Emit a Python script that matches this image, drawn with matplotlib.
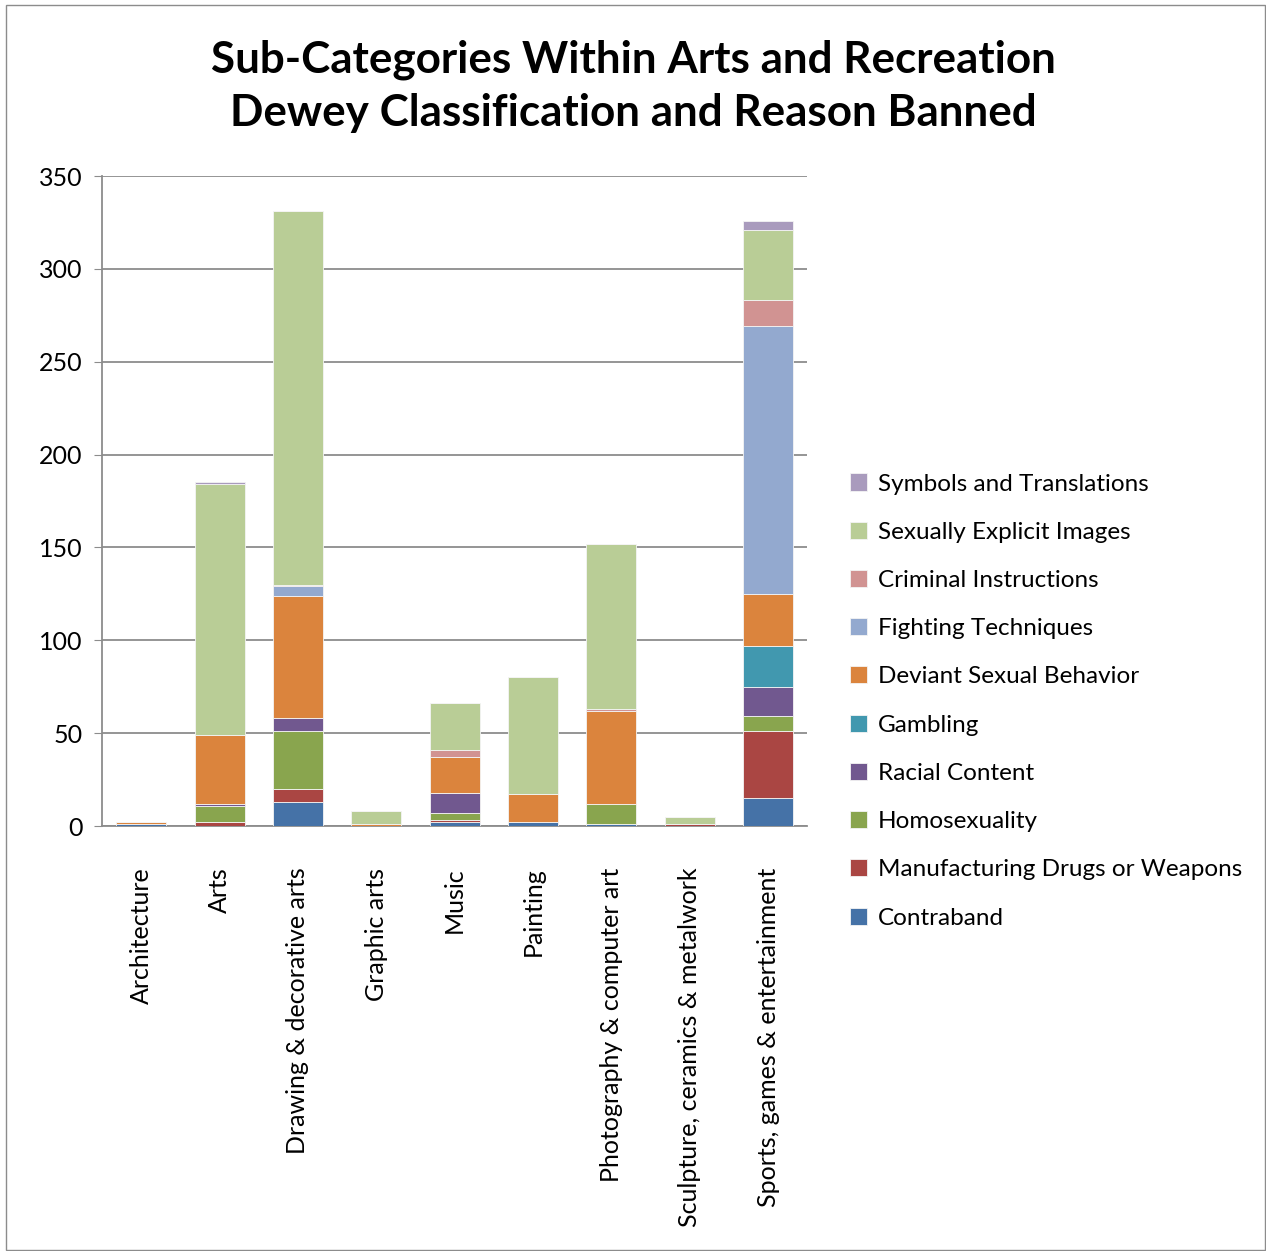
import matplotlib.pyplot as plt
import numpy as np

plt.rcParams['font.family'] = ['Lato', 'DejaVu Sans']

categories = ['Architecture', 'Arts', 'Drawing & decorative arts', 'Graphic arts', 'Music',
              'Painting', 'Photography & computer art', 'Sculpture, ceramics & metalwork',
              'Sports, games & entertainment']

series = ['Contraband', 'Manufacturing Drugs or Weapons', 'Homosexuality', 'Racial Content',
          'Gambling', 'Deviant Sexual Behavior', 'Fighting Techniques', 'Criminal Instructions',
          'Sexually Explicit Images', 'Symbols and Translations']

contraband   = [1, 0, 13, 0, 2, 2, 1, 0, 15]
manufacturing = [0, 2, 7, 0, 1, 0, 0, 1, 36]
homosexuality = [0, 9, 31, 0, 4, 0, 11, 0, 8]
racial       = [0, 1, 7, 0, 11, 0, 0, 0, 16]
gambling     = [0, 0, 0, 0, 0, 0, 0, 0, 22]
deviant      = [1, 37, 66, 1, 19, 15, 50, 0, 28]
fighting     = [0, 0, 5, 0, 0, 0, 0, 0, 144]
criminal     = [0, 0, 1, 0, 4, 0, 1, 0, 14]
explicit     = [0, 135, 201, 7, 25, 63, 89, 4, 38]
symbols      = [0, 1, 0, 0, 0, 0, 0, 0, 5]

values = [contraband, manufacturing, homosexuality, racial, gambling,
          deviant, fighting, criminal, explicit, symbols]
colors = ['#4572A7', '#AA4643', '#89A54E', '#71588F', '#4198AF',
          '#DB843D', '#93A9CF', '#D19392', '#B9CD96', '#A99BBD']

fig = plt.figure(figsize=(12.66, 12.51), dpi=100)
ax = fig.add_axes([0.0806, 0.3397, 0.5571, 0.5196])

x = np.arange(len(categories))
bottom = np.zeros(len(categories))
for name, vals, c in zip(series, values, colors):
    ax.bar(x, vals, 0.64, bottom=bottom, color=c, label=name,
           edgecolor='#f4f4f4', linewidth=0.6, zorder=3)
    bottom += np.array(vals)

ax.set_xlim(-0.5, 8.5)
ax.set_ylim(0, 350)
ax.set_yticks(range(0, 351, 50))
ax.yaxis.grid(True, color='#8c8c8c', linewidth=1.3, zorder=0)
ax.tick_params(axis='y', labelsize=18, length=6, color='#8c8c8c', pad=8)
ax.tick_params(axis='x', labelsize=18, length=0, pad=30)
ax.set_xticks(x)
ax.set_xticklabels(categories, rotation=90, va='top')
for s in ['top', 'right']:
    ax.spines[s].set_visible(False)
for s in ['left', 'bottom']:
    ax.spines[s].set_color('#8c8c8c')
    ax.spines[s].set_linewidth(1.3)

fig.text(0.5, 0.931, 'Sub-Categories Within Arts and Recreation\nDewey Classification and Reason Banned',
         fontsize=31.7, fontweight='bold', ha='center', va='center', linespacing=1.42)

h, l = ax.get_legend_handles_labels()
fig.legend(h[::-1], l[::-1], loc='center left', bbox_to_anchor=(0.654, 0.4396),
           frameon=False, fontsize=17.5, handlelength=0.7, handleheight=0.7,
           handletextpad=0.45, labelspacing=1.12)

fig.patches.append(plt.Rectangle((0.005, 0.001), 0.994, 0.995, transform=fig.transFigure,
                                 fill=False, edgecolor='#8c8c8c', linewidth=1))

fig.savefig('out.png', dpi=100)
